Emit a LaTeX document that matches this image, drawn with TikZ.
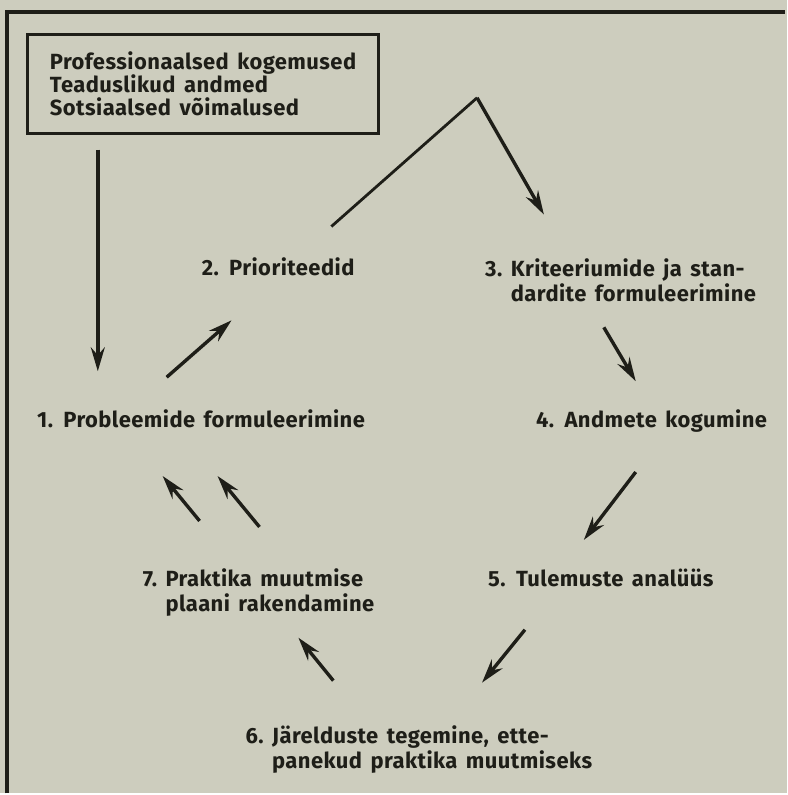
\documentclass[tikz,border=0pt]{standalone}
\usepackage{fontspec}
\setmainfont{Fira Sans}[WordSpace=1.5,LetterSpace=2]
\usepackage{xcolor}
\usepackage{tikz}
\usetikzlibrary{arrows.meta}
\definecolor{paper}{RGB}{205,205,190}
\definecolor{ink}{RGB}{30,30,24}
\newcommand{\diafont}{\fontsize{22}{23.5}\selectfont\bfseries}

\begin{document}
\begin{tikzpicture}[x=1pt,y=1pt,
  lbl/.style={anchor=base west,inner sep=0pt,text=ink,font=\diafont},
  flow/.style={ink,line width=3.4pt,-{Stealth[length=24pt,width=14pt,inset=8pt]}}]
\fill[paper] (0,0) rectangle (789,795);

% Frame
\draw[ink,line width=3.2pt] (7,0) -- (7,783) -- (787,783);

% Sources box
\node[draw=ink,line width=3pt,anchor=north west,minimum width=352pt,minimum height=99pt,
  align=left,text=ink,font=\diafont] (src) at (26,762)
  {Professionaalsed kogemused\\Teaduslikud andmed\\Sotsiaalsed võimalused};

% Steps
\node[lbl] (p1) at (37,367) {1. Probleemide formuleerimine};
\node[lbl] (p2) at (202,519) {2. Prioriteedid};
\node[lbl] (p3) at (486,518) {\begin{tabular}[t]{@{}l@{\ }l@{}}3.&Kriteeriumide ja stan-\\&dardite formuleerimine\end{tabular}};
\node[lbl] (p4) at (537,367) {4. Andmete kogumine};
\node[lbl] (p5) at (489,207) {5. Tulemuste analüüs};
\node[lbl] (p6) at (246,50) {\begin{tabular}[t]{@{}l@{\ }l@{}}6.&Järelduste tegemine, ette-\\&panekud praktika muutmiseks\end{tabular}};
\node[lbl] (p7) at (143,207) {\begin{tabular}[t]{@{}l@{\ }l@{}}7.&Praktika muutmise\\&plaani rakendamine\end{tabular}};

% Arrow ends
\coordinate (s0) at (98,645);   \coordinate (t0) at (98,423);
\coordinate (apex) at (478,697); \coordinate (foot) at (332,568);
\coordinate (t3) at (545,580);
\coordinate (s12) at (167,417); \coordinate (t12) at (232,474);
\coordinate (s34) at (605,467); \coordinate (t34) at (637,413);
\coordinate (s45) at (637,322); \coordinate (t45) at (585,254);
\coordinate (s56) at (526,164); \coordinate (t56) at (483,111);
\coordinate (s67) at (334,113); \coordinate (t67) at (299,156);
\coordinate (s71) at (200,273); \coordinate (t71) at (163,318);
\coordinate (s71b) at (260,267); \coordinate (t71b) at (218,318);

% Flows
\draw[ink,line width=2.8pt] (foot) -- (apex);
\foreach \a/\b in {s0/t0,apex/t3,s12/t12,s34/t34,s45/t45,s56/t56,s67/t67,s71/t71,s71b/t71b}
  \draw[flow] (\a) -- (\b);
\end{tikzpicture}
\end{document}
